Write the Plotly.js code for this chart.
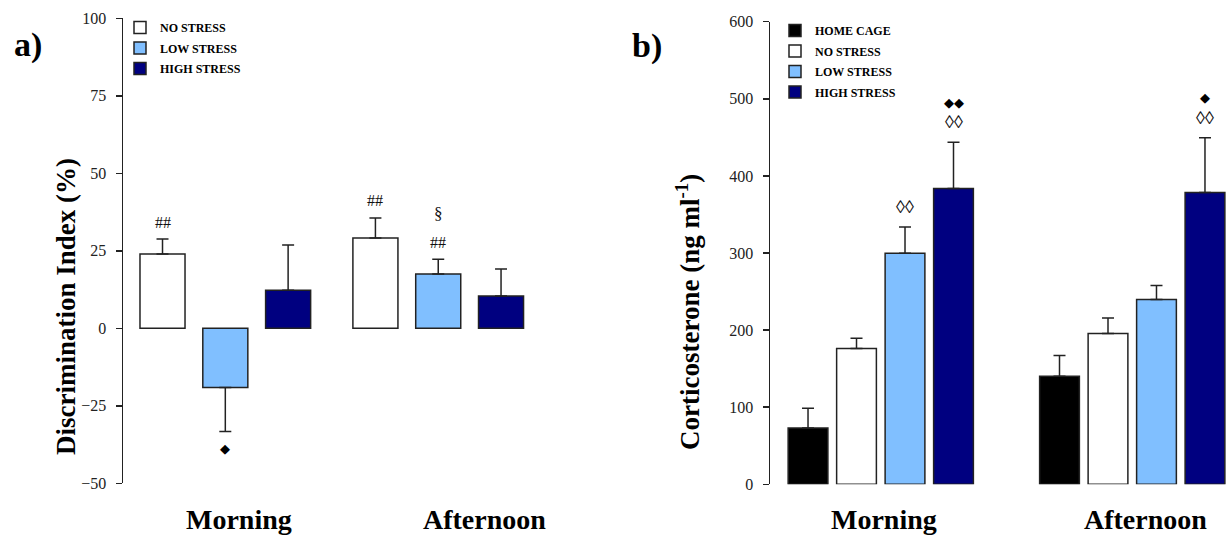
<!DOCTYPE html>
<html>
<head>
<meta charset="utf-8">
<script src="https://cdn.plot.ly/plotly-3.0.1.min.js"></script>
<style>
  html, body { margin: 0; padding: 0; background: #fff; }
  #chart { width: 1227px; height: 536px; }
</style>
</head>
<body>
<div id="chart"></div>
<script>
// ---- data ----
const timeGroups = ['Morning', 'Afternoon'];

// a) Discrimination index (%), mean and SEM
const discSeries = ['NO STRESS', 'LOW STRESS', 'HIGH STRESS'];
const discNoStress = [24.0, 29.1];
const discNoStressErr = [4.8, 6.5];
const discLowStress = [-19.1, 17.5];
const discLowStressErr = [14.2, 4.8];
const discHighStress = [12.3, 10.4];
const discHighStressErr = [14.6, 8.7];

// b) Corticosterone (ng/ml), mean and SEM
const cortSeries = ['HOME CAGE', 'NO STRESS', 'LOW STRESS', 'HIGH STRESS'];
const cortHomeCage = [72.9, 140.3];
const cortHomeCageErr = [25.9, 26.7];
const cortNoStress = [176.0, 195.6];
const cortNoStressErr = [13.5, 20.2];
const cortLowStress = [299.6, 239.6];
const cortLowStressErr = [34.1, 18.4];
const cortHighStress = [383.8, 378.6];
const cortHighStressErr = [60.0, 70.9];

// significance marks: [group index, series index, symbol, stack level]
const discMarks = [
  [0, 0, '##', 0],
  [1, 0, '##', 0],
  [1, 1, '##', 0],
  [1, 1, '§', 1],
  [0, 1, '◆', 0]
];
const cortMarks = [
  [0, 2, '◊◊', 0],
  [0, 3, '◊◊', 0],
  [0, 3, '◆◆', 1],
  [1, 3, '◊◊', 0],
  [1, 3, '◆', 1]
];

// ---- styling ----
const W = 1227, H = 536;
const SERIF = 'Liberation Serif, Times New Roman, serif';
const OUTLINE = '#222';
const fills = {
  'HOME CAGE': '#000000',
  'NO STRESS': '#ffffff',
  'LOW STRESS': '#80bfff',
  'HIGH STRESS': '#000080'
};

const px2x = p => p / W;
const px2y = p => 1 - p / H;

// panel geometry (x measured in bar-step units)
const panelA = { groupStep: 3.39, barWidth: 0.717, xStart: -0.629, xEnd: 6.09,
                 left: 123, right: 545, top: 18.3, bottom: 483.3, yMin: -50, yMax: 100 };
const panelB = { groupStep: 5.186, barWidth: 0.82, xStart: -0.784, xEnd: 8.64,
                 left: 770, right: 1227, top: 21.7, bottom: 484.3, yMin: 0, yMax: 600 };

function barTrace(name, vals, errs, si, geo, xa, ya, legendId) {
  const xs = vals.map((_, gi) => gi * geo.groupStep + si);
  return {
    type: 'bar',
    name: name,
    x: xs,
    y: vals,
    width: vals.map(() => geo.barWidth),
    xaxis: xa, yaxis: ya,
    legend: legendId,
    legendgroup: legendId + '-' + si,
    showlegend: true,
    marker: { color: fills[name], line: { color: OUTLINE, width: 1.5 } },
    error_y: {
      type: 'data', symmetric: false,
      array: vals.map((v, i) => v >= 0 ? errs[i] : 0),
      arrayminus: vals.map((v, i) => v < 0 ? errs[i] : 0),
      color: OUTLINE, thickness: 1.5, width: 6
    },
    hoverinfo: 'x+y'
  };
}

const discData = [
  [discNoStress, discNoStressErr],
  [discLowStress, discLowStressErr],
  [discHighStress, discHighStressErr]
];
const cortData = [
  [cortHomeCage, cortHomeCageErr],
  [cortNoStress, cortNoStressErr],
  [cortLowStress, cortLowStressErr],
  [cortHighStress, cortHighStressErr]
];

const traces = [];
discSeries.forEach((s, si) => {
  traces.push(barTrace(s, discData[si][0], discData[si][1], si, panelA, 'x', 'y', 'legend'));
});
cortSeries.forEach((s, si) => {
  traces.push(barTrace(s, cortData[si][0], cortData[si][1], si, panelB, 'x2', 'y2', 'legend2'));
});

// significance marks sit just beyond the end of each error bar
const annotations = [];
function markFont(txt) {
  if (txt.indexOf('◆') >= 0) return { family: 'DejaVu Sans, sans-serif', size: 13, color: '#000' };
  if (txt.indexOf('◊') >= 0) return { family: SERIF, size: 18, color: '#111' };
  if (txt === '§') return { family: SERIF, size: 17, color: '#111' };
  return { family: SERIF, size: 16, color: '#111' };
}
function addMarks(marks, data, geo, xr, yr, shifts) {
  marks.forEach(([gi, si, txt, lvl]) => {
    const v = data[si][0][gi], e = data[si][1][gi];
    const neg = v < 0;
    const yEnd = neg ? v - e : v + e;
    annotations.push({
      xref: xr, yref: yr,
      x: gi * geo.groupStep + si, y: yEnd,
      text: txt, showarrow: false,
      yanchor: 'middle', xanchor: 'center',
      yshift: neg ? -shifts[lvl] : shifts[lvl],
      font: markFont(txt)
    });
  });
}
addMarks(discMarks, discData, panelA, 'x', 'y', [17, 46]);
addMarks(cortMarks, cortData, panelB, 'x2', 'y2', [20, 40]);

function paperText(cx, cy, text, size, angle) {
  return {
    xref: 'paper', yref: 'paper', x: px2x(cx), y: px2y(cy),
    xanchor: 'center', yanchor: 'middle',
    text: text, textangle: angle || 0, showarrow: false,
    font: { family: SERIF, size: size, color: '#000' }
  };
}

// panel letters
annotations.push(paperText(28, 45, '<b>a)</b>', 34));
annotations.push(paperText(647, 46, '<b>b)</b>', 34));

// group labels under each panel
const groupLabelPos = [[239, 484], [884, 1145]];
groupLabelPos.forEach(pair => {
  pair.forEach((cx, gi) => {
    annotations.push(paperText(cx, 519, '<b>' + timeGroups[gi] + '</b>', 28));
  });
});

// y-axis titles
annotations.push(paperText(66, 307, '<b>Discrimination Index (%)</b>', 27, -90));
annotations.push(paperText(688, 312, '<b>Corticosterone (ng ml<sup>-1</sup>)</b>', 27, -90));

function yAxis(geo, anchor, dtick) {
  return {
    domain: [px2y(geo.bottom), px2y(geo.top)],
    range: [geo.yMin, geo.yMax],
    anchor: anchor,
    dtick: dtick, tick0: 0,
    showline: true, linecolor: '#222', linewidth: 1.5,
    ticks: 'outside', ticklen: 6, tickwidth: 1.5, tickcolor: '#222',
    ticklabelstandoff: 6,
    showgrid: false, zeroline: false,
    tickfont: { family: SERIF, size: 16, color: '#222' },
    fixedrange: true
  };
}
function xAxis(geo, anchor) {
  return {
    domain: [px2x(geo.left), px2x(geo.right)],
    range: [geo.xStart, geo.xEnd],
    anchor: anchor,
    visible: false,
    fixedrange: true
  };
}

const legendFont = { family: SERIF, size: 12, color: '#000', weight: 'bold' };
const layout = {
  width: W, height: H,
  margin: { l: 0, r: 0, t: 0, b: 0, pad: 0 },
  paper_bgcolor: '#fff', plot_bgcolor: 'rgba(0,0,0,0)',
  showlegend: true,
  barmode: 'overlay',
  xaxis: xAxis(panelA, 'y'),
  yaxis: yAxis(panelA, 'x', 25),
  xaxis2: xAxis(panelB, 'y2'),
  yaxis2: yAxis(panelB, 'x2', 100),
  legend: {
    x: px2x(120), y: px2y(13), xanchor: 'left', yanchor: 'top',
    bgcolor: 'rgba(0,0,0,0)', font: legendFont, traceorder: 'grouped',
    tracegroupgap: 1.5, itemclick: false, itemdoubleclick: false
  },
  legend2: {
    x: px2x(775), y: px2y(16), xanchor: 'left', yanchor: 'top',
    bgcolor: 'rgba(0,0,0,0)', font: legendFont, traceorder: 'grouped',
    tracegroupgap: 1.5, itemclick: false, itemdoubleclick: false
  },
  annotations: annotations
};

Plotly.newPlot('chart', traces, layout, { displayModeBar: false, staticPlot: true });
</script>
</body>
</html>
